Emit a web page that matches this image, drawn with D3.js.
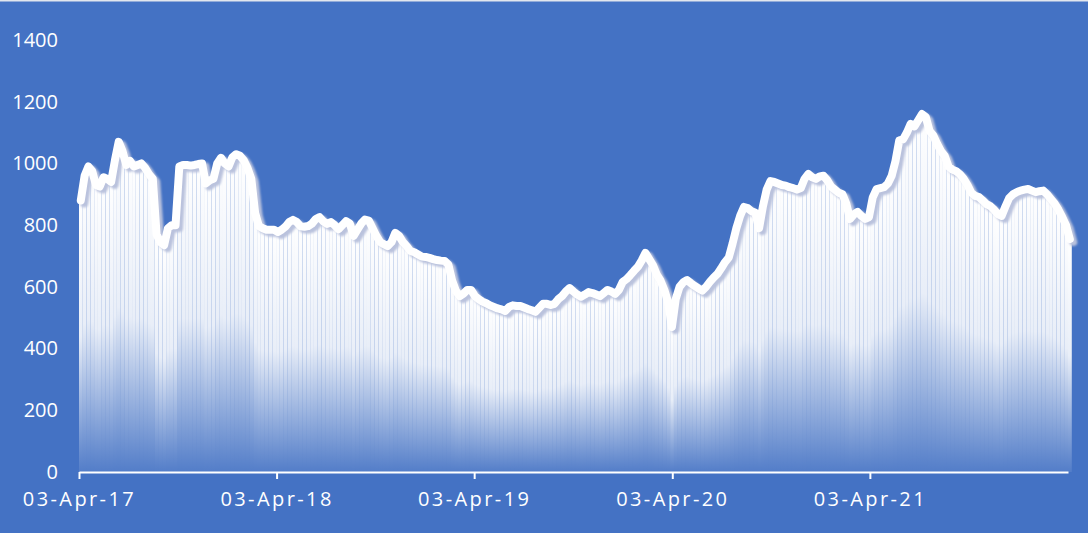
<!DOCTYPE html>
<html>
<head>
<meta charset="utf-8">
<script src="https://cdn.jsdelivr.net/npm/d3@7"></script>
<style>
  html, body { margin: 0; padding: 0; background: #4472C4; }
  svg { display: block; }
  text { font-family: "Open Sans", sans-serif; fill: #fff; }
</style>
</head>
<body>
<svg width="1088" height="533"></svg>
<script>
// weekly values, first week starting 03-Apr-17
var startDate = new Date(2017, 3, 3), endDate = new Date(2022, 3, 4);
var weekly = [
  880, 960, 990, 975, 930, 925, 955, 950, 940, 1010,
  1070, 1040, 995, 1008, 990, 995, 1000, 985, 965, 950,
  770, 745, 735, 790, 800, 800, 990, 995, 995, 993,
  995, 998, 1000, 935, 945, 950, 1000, 1018, 1000, 990,
  1020, 1030, 1025, 1010, 985, 950, 840, 797, 790, 785,
  785, 785, 778, 785, 795, 810, 817, 810, 796, 795,
  797, 805, 820, 826, 812, 804, 810, 800, 787, 800,
  813, 805, 765, 785, 805, 818, 815, 790, 765, 745,
  738, 732, 745, 775, 765, 745, 732, 716, 712, 705,
  698, 697, 694, 690, 687, 685, 684, 672, 620, 587,
  570, 578, 590, 590, 570, 560, 552, 547, 540, 535,
  530, 527, 522, 535, 540, 538, 538, 533, 528, 524,
  519, 532, 545, 545, 541, 545, 560, 570, 585, 596,
  585, 575, 568, 575, 583, 580, 575, 570, 580, 590,
  585, 577, 590, 616, 625, 638, 652, 665, 685, 710,
  690, 670, 640, 620, 590, 550, 470, 560, 600, 615,
  622, 612, 603, 595, 588, 600, 616, 630, 642, 660,
  680, 695, 740, 790, 830, 859, 855, 845, 840, 790,
  860, 915, 943, 940, 935, 930, 928, 923, 920, 915,
  920, 950, 966, 955, 950, 958, 960, 945, 925, 915,
  905, 900, 870, 820, 835, 843, 830, 820, 826, 890,
  917, 920, 923, 935, 960, 1008, 1075, 1078, 1100, 1128,
  1120, 1140, 1160, 1150, 1105, 1090, 1063, 1040, 1024, 990,
  980, 975, 965, 950, 930, 905, 895, 891, 880, 868,
  862, 850, 836, 830, 860, 888, 900, 907, 912, 915,
  917, 912, 907, 910, 912, 900, 885, 870, 850, 826,
  800, 755
];
var yTicks = [0, 200, 400, 600, 800, 1000, 1200, 1400];
var xTickDates = [new Date(2017, 3, 3), new Date(2018, 3, 3), new Date(2019, 3, 3), new Date(2020, 3, 3), new Date(2021, 3, 3)];

var data = weekly.map(function (v, i) {
  return { date: d3.timeDay.offset(startDate, i * 7), value: v };
});

var svg = d3.select('svg');
var x = d3.scaleTime().domain([startDate, endDate]).range([79, 1068]);
var y = d3.scaleLinear().domain([0, 1400]).range([472, 40]);
var fmt = d3.timeFormat('%d-%b-%y');

svg.append('rect').attr('width', 1088).attr('height', 533).attr('fill', '#4472C4');
svg.append('line').attr('x1', 0).attr('x2', 1088).attr('y1', 0.5).attr('y2', 0.5)
  .attr('stroke', '#E2E6EE').attr('stroke-width', 2);

var defs = svg.append('defs');
var grad = defs.append('linearGradient').attr('id', 'barFill')
  .attr('x1', 0).attr('y1', 0).attr('x2', 0).attr('y2', 1);
grad.append('stop').attr('offset', '0%').attr('stop-color', '#fff').attr('stop-opacity', 1);
grad.append('stop').attr('offset', '50%').attr('stop-color', '#fff').attr('stop-opacity', 0.88);
grad.append('stop').attr('offset', '100%').attr('stop-color', '#fff').attr('stop-opacity', 0.08);

var blur = defs.append('filter').attr('id', 'soft');
blur.append('feGaussianBlur').attr('stdDeviation', 0.9);

/* ----------- BARS ----------- */
svg.append('g').selectAll('rect.bar').data(data).enter()
  .append('rect')
  .attr('class', 'bar')
  .attr('x', function (d) { return x(d.date); })
  .attr('width', function (d) { return x(d3.timeDay.offset(d.date, 7)) - x(d.date); })
  .attr('y', function (d) { return y(d.value); })
  .attr('height', function (d) { return y(0) - y(d.value); })
  .attr('fill', 'url(#barFill)');

/* ----------- TOP LINE ----------- */
var line = d3.line()
  .x(function (d) { return x(d.date) + 1.8; })
  .y(function (d) { return y(d.value); });

svg.append('path').datum(data)
  .attr('d', line)
  .attr('transform', 'translate(3.5,3)')
  .attr('fill', 'none')
  .attr('stroke', '#BAC2DD')
  .attr('stroke-width', 8)
  .attr('stroke-linejoin', 'round')
  .attr('stroke-linecap', 'round')
  .attr('filter', 'url(#soft)');

svg.append('path').datum(data)
  .attr('d', line)
  .attr('fill', 'none')
  .attr('stroke', '#fff')
  .attr('stroke-width', 8)
  .attr('stroke-linejoin', 'round')
  .attr('stroke-linecap', 'round');

/* ----------- AXES ----------- */
var xAxis = svg.append('g').attr('transform', 'translate(0,' + y(0) + ')')
  .call(d3.axisBottom(x).tickValues(xTickDates).tickFormat(fmt).tickSizeInner(7).tickSizeOuter(0).tickPadding(13));
xAxis.select('.domain').attr('stroke', '#fff').attr('stroke-width', 2);
xAxis.selectAll('.tick line').attr('stroke', '#fff').attr('stroke-width', 2);
xAxis.selectAll('.tick text')
  .attr('fill', '#fff')
  .style('font-family', '"Open Sans", sans-serif')
  .style('font-size', '20px')
  .style('letter-spacing', '2.4px');

var yAxis = svg.append('g').attr('transform', 'translate(58,0)')
  .call(d3.axisLeft(y).tickValues(yTicks).tickFormat(d3.format('d')).tickSize(0).tickPadding(0));
yAxis.select('.domain').remove();
yAxis.selectAll('.tick text')
  .attr('fill', '#fff')
  .style('font-family', '"Open Sans", sans-serif')
  .style('font-size', '20px');
</script>
</body>
</html>
